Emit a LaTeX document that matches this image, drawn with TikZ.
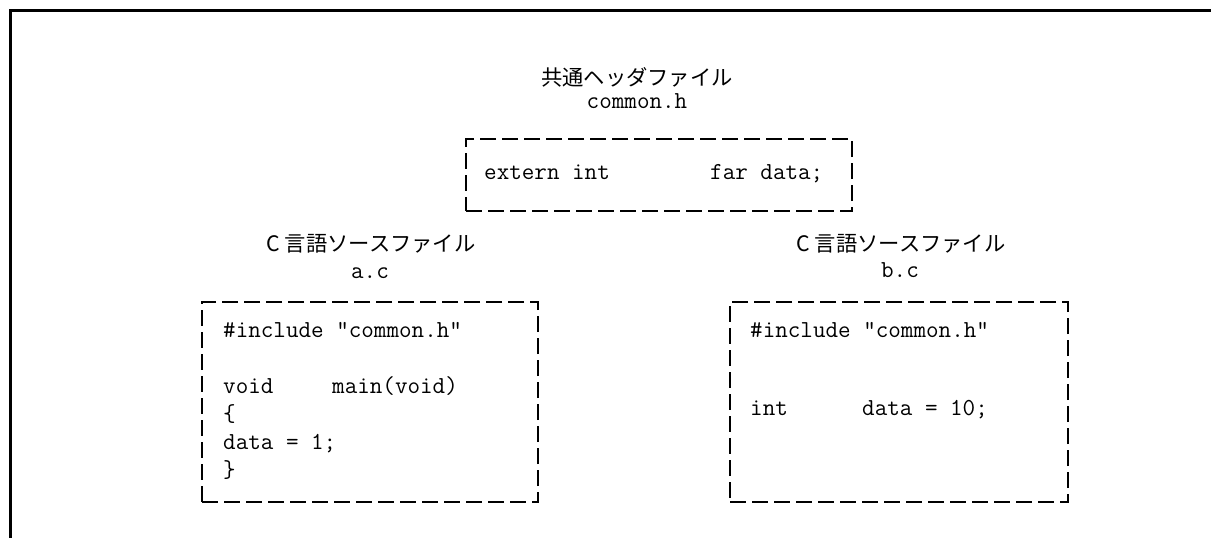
\documentclass[tikz,border=0pt]{standalone}
\usepackage{fontspec}
\newfontfamily\jpfont{Noto Sans CJK JP}
\tikzset{
  filebox/.style={draw=black, line width=2pt, dash pattern=on 16pt off 6pt, inner sep=0pt},
  codeline/.style={anchor=base west, inner sep=0pt, font=\fontsize{24.4}{28}\ttfamily},
  filetitle/.style={anchor=base, inner sep=0pt, font=\fontsize{21.3}{28}\jpfont},
  filename/.style={anchor=base, inner sep=0pt, font=\fontsize{24.4}{28}\ttfamily}
}

\begin{document}
\begin{tikzpicture}[x=1pt, y=-1pt]
    \useasboundingbox (0,0) rectangle (1211,538);
    \draw[line width=3pt] (10,538) -- (10,10) -- (1211,10);

    \node[filetitle] (hdrtitle) at (637,85) {共通ヘッダファイル};
    \node[filename] (hdrname) at (637,108) {common.h};
    \node[filebox, minimum width=386pt, minimum height=72pt] (hdrbox) at (659,175) {};
    \node[codeline] (hdrdecl) at (484,179) {extern int};
    \node[codeline] (hdrvar) at (710,179) {far data;};

    \node[filetitle] (atitle) at (371,251) {C 言語ソースファイル};
    \node[filename] (aname) at (370,278) {a.c};
    \node[filebox, minimum width=336pt, minimum height=200pt] (abox) at (370,402) {};
    \node[codeline] (ainc) at (223,337) {\#include "common.h"};
    \node[codeline] (avoid) at (223,393) {void};
    \node[codeline] (amain) at (332,393) {main(void)};
    \node[codeline] (aopen) at (223,421) {\{};
    \node[codeline] (aset) at (223,449) {data = 1;};
    \node[codeline] (aclose) at (223,477) {\}};

    \node[filetitle] (btitle) at (901,251) {C 言語ソースファイル};
    \node[filename] (bname) at (900,277) {b.c};
    \node[filebox, minimum width=338pt, minimum height=200pt] (bbox) at (899,402) {};
    \node[codeline] (binc) at (750,337) {\#include "common.h"};
    \node[codeline] (bint) at (750,415) {int};
    \node[codeline] (bdef) at (862,415) {data = 10;};
\end{tikzpicture}
\end{document}
